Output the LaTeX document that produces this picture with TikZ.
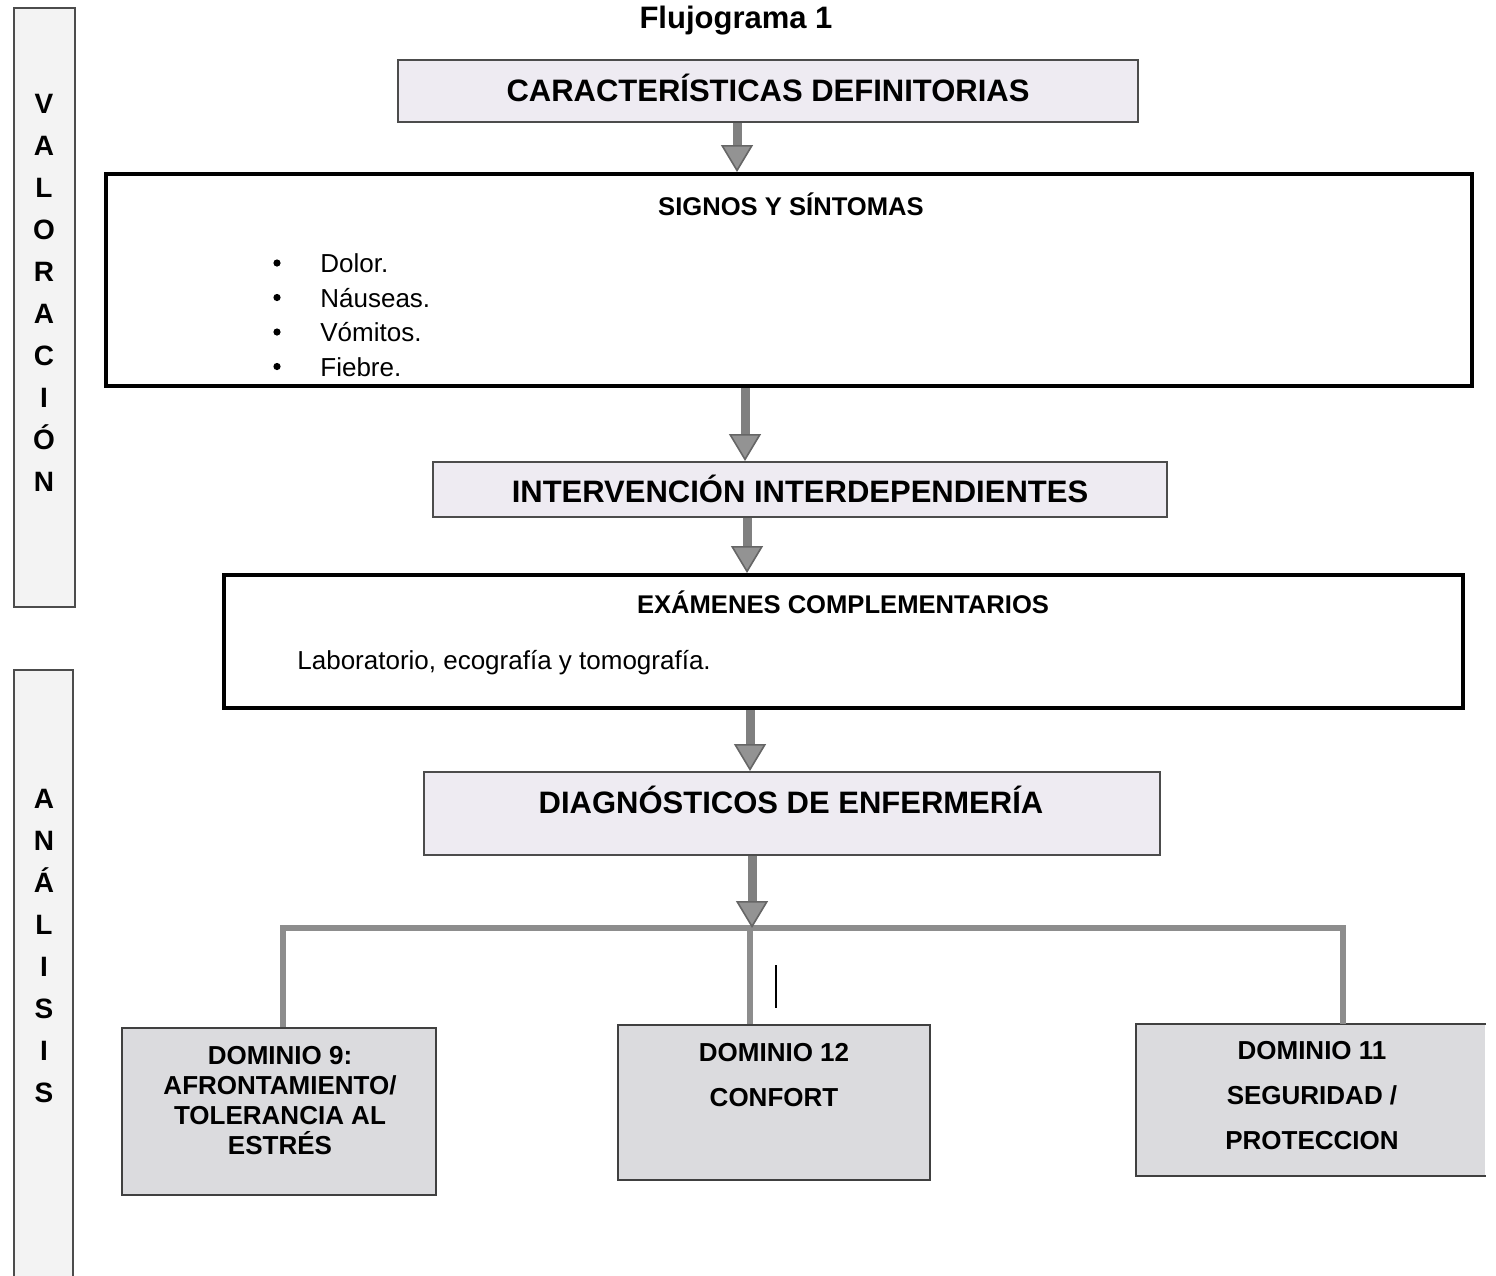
\documentclass[tikz,border=0pt]{standalone}
\usepackage{fontspec}
\setmainfont{Liberation Sans}
\usetikzlibrary{arrows.meta, positioning}
\definecolor{lavender}{HTML}{EEEBF2}
\definecolor{domgray}{HTML}{DBDBDE}
\definecolor{sidegray}{HTML}{F3F3F3}
\definecolor{arrowgray}{HTML}{808080}
\tikzset{
        headbox/.style={draw=black!70, line width=1pt, fill=lavender, inner sep=0pt}, % shaded title boxes
        framebox/.style={draw=black, line width=2pt, fill=white, inner sep=0pt}, % heavy framed boxes
        domainbox/.style={draw=black!75, line width=1pt, fill=domgray, inner sep=0pt}, % the three domain boxes
        sidebar/.style={draw=black!70, line width=1pt, fill=sidegray, inner sep=0pt}, % stage bars on the left
        bigtext/.style={font=\bfseries\fontsize{15.5}{18}\selectfont, inner sep=0pt, anchor=base},
        smalltitle/.style={font=\bfseries\fontsize{12.8}{15}\selectfont, inner sep=0pt, anchor=base},
        plaintext/.style={font=\fontsize{13}{17}\selectfont, inner sep=0pt, anchor=base west},
        domtext/.style={font=\bfseries\fontsize{13}{15}\selectfont, inner sep=0pt, align=center, anchor=north},
        letter/.style={font=\bfseries\fontsize{14}{16}\selectfont, inner sep=0pt, anchor=base},
        bulletdot/.style={circle, fill=black, inner sep=0pt, minimum size=3.6pt}, % list bullets
        fatarrow/.style={draw=arrowgray, line width=4.5pt,
            -{Triangle[length=13.5pt, width=16pt, line width=0.8pt, color=black!60, fill=arrowgray!85]}}, % bold gray arrows
        busline/.style={draw=arrowgray!90, line width=3pt}, % branching bar to the domains
    }

\begin{document}
\begin{tikzpicture}[x=0.5pt, y=-0.5pt]
    \useasboundingbox (0,0) rectangle (1496,1276);

    % stage bars
    \node[sidebar, minimum width=30.5pt, minimum height=299.5pt] (valbar) at (44.5,307.5) {};
    \node[sidebar, minimum width=29.5pt, minimum height=310pt] (anbar) at (43.5,980) {};
    \foreach \ch [count=\i] in {V,A,L,O,R,A,C,I,Ó,N}
        \node[letter] (val\i) at (44,{71+42*\i}) {\ch};
    \foreach \ch [count=\i] in {A,N,Á,L,I,S,I,S}
        \node[letter] (an\i) at (44,{766+42*\i}) {\ch};

    \node[bigtext] (title) at (736,28) {Flujograma 1};

    % boxes
    \node[headbox, minimum width=370pt, minimum height=31pt] (cd) at (768,91) {};
    \node[bigtext] (cdtext) at (768,101) {CARACTERÍSTICAS DEFINITORIAS};

    \node[framebox, minimum width=683pt, minimum height=106pt] (sys) at (789,280) {};
    \node[smalltitle] (systitle) at (791,215) {SIGNOS Y SÍNTOMAS};
    \foreach \sym [count=\i] in {Dolor.,Náuseas.,Vómitos.,Fiebre.} {
        \node[bulletdot] (dot\i) at (277,{228.5+34.5*\i}) {};
        \node[plaintext] (sym\i) at (320,{238+34.5*\i}) {\sym};
    }

    \node[headbox, minimum width=367pt, minimum height=27.5pt] (ii) at (800,489.5) {};
    \node[bigtext] (iitext) at (800,502) {INTERVENCIÓN INTERDEPENDIENTES};

    \node[framebox, minimum width=619.5pt, minimum height=66.5pt] (ec) at (843.5,641.5) {};
    \node[smalltitle] (ectitle) at (843,613) {EXÁMENES COMPLEMENTARIOS};
    \node[plaintext] (ectext) at (297,669) {Laboratorio, ecografía y tomografía.};

    \node[headbox, minimum width=368pt, minimum height=41.5pt] (de) at (792,813.5) {};
    \node[bigtext] (detext) at (791,813) {DIAGNÓSTICOS DE ENFERMERÍA};

    \node[domainbox, minimum width=157pt, minimum height=83.5pt] (d9) at (279,1111.5) {};
    \node[domtext] (d9text) at (280,1045.5) {DOMINIO 9:\\AFRONTAMIENTO/\\TOLERANCIA AL\\ESTRÉS};
    \node[domainbox, minimum width=156pt, minimum height=77.5pt] (d12) at (774,1102.5) {};
    \node[domtext] (d12text) at (774,1042.5) {DOMINIO 12\\[7.5pt]CONFORT};
    \node[domainbox, draw=none, minimum width=174pt, minimum height=75pt] (d11) at (1311,1100) {};
    \draw[black!75, line width=1pt] (d11.north east) -- (d11.north west) -- (d11.south west) -- (d11.south east);
    \node[domtext] (d11text) at (1312,1040.5) {DOMINIO 11\\[7.5pt]SEGURIDAD /\\[7.5pt]PROTECCION};

    % branching bar
    \coordinate (split) at (752,928);
    \coordinate (lbend) at (283,928);
    \coordinate (rbend) at (1343,928);
    \draw[busline] (d9.north -| lbend) -- (lbend) -- (rbend) -- (d11.north -| rbend);
    \draw[busline] ([xshift=-1pt]split) -- ([xshift=-1pt]split |- d12.north);
    \draw[line width=1pt] (776,965) -- (776,1008);

    % arrows
    \draw[fatarrow] ([xshift=-15.5pt]cd.south) -- ([xshift=-15.5pt]cd.south |- sys.north);
    \draw[fatarrow] ([xshift=-22pt]sys.south) -- ([xshift=-22pt]sys.south |- ii.north);
    \draw[fatarrow] ([xshift=-26.5pt]ii.south) -- ([xshift=-26.5pt]ii.south |- ec.north);
    \draw[fatarrow] ([xshift=-21pt]de.north |- ec.south) -- ([xshift=-21pt]de.north);
    \draw[fatarrow] ([xshift=-20pt]de.south) -- (split);
\end{tikzpicture}
\end{document}
